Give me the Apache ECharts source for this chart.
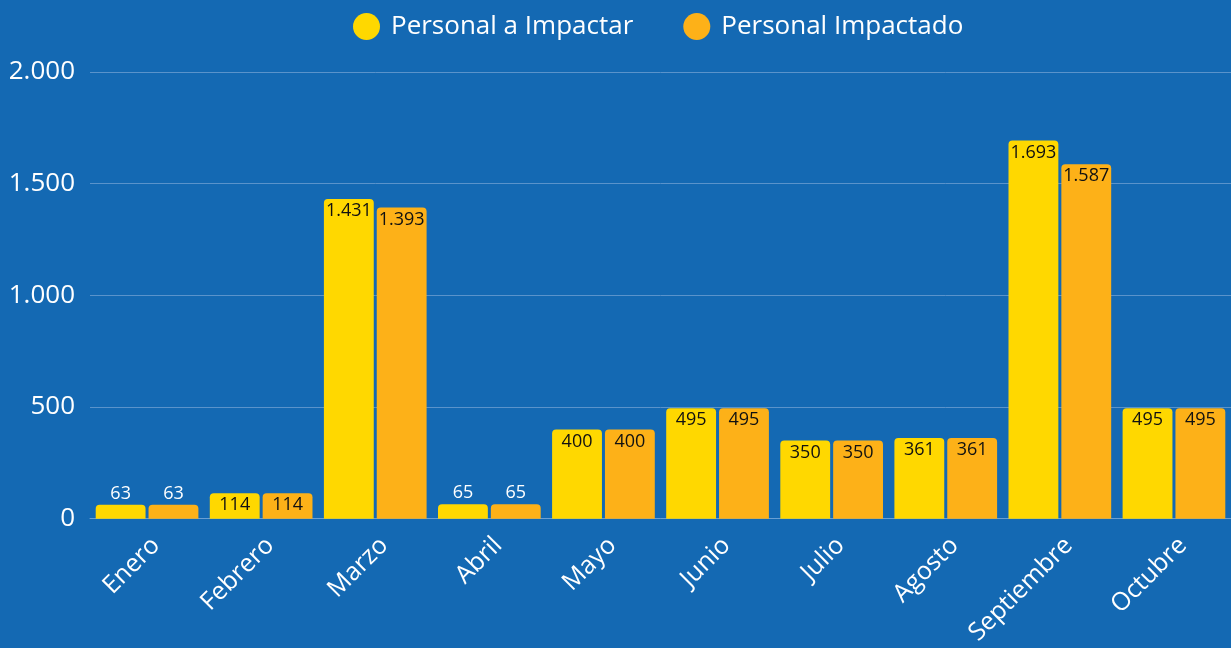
<!DOCTYPE html>
<html lang="es">
<head>
    <meta charset="UTF-8">
    <title>Personal impactado</title>
    <script src="https://cdn.jsdelivr.net/npm/echarts@6/dist/echarts.min.js"></script>
    <style>
        html, body { margin: 0; padding: 0; background: #1469b3; }
        #chart { width: 1231px; height: 648px; }
    </style>
</head>
<body>
    <div id="chart"></div>
    <script>
        // datos
        const meses = ['Enero', 'Febrero', 'Marzo', 'Abril', 'Mayo', 'Junio', 'Julio', 'Agosto', 'Septiembre', 'Octubre']
        const aImpactar = [63, 114, 1431, 65, 400, 495, 350, 361, 1693, 495]
        const impactado = [63, 114, 1393, 65, 400, 495, 350, 361, 1587, 495]
        const yTicks = [0, 500, 1000, 1500, 2000]

        const fmt = v => String(v).replace(/\B(?=(\d{3})+(?!\d))/g, '.')

        // barras chicas: etiqueta blanca arriba
        function conEtiquetas(vals){
            return vals.map(v => v < 100
                ? { value: v, label: { position: 'top', color: '#ffffff', distance: 2 } }
                : v)
        }

        function serie(name, color, vals){
            return {
                name: name,
                type: 'bar',
                data: conEtiquetas(vals),
                barGap: '6%',
                barCategoryGap: '10%',
                itemStyle: { color: color, borderRadius: [4, 4, 0, 0] },
                label: {
                    show: true,
                    position: 'insideTop',
                    distance: 3,
                    color: '#111111',
                    fontSize: 18,
                    fontFamily: 'Open Sans',
                    formatter: p => fmt(p.value)
                }
            }
        }

        var myChart = echarts.init(document.getElementById('chart'))
        var option = {
            backgroundColor: '#1469b3',
            animation: false,
            legend: {
                top: 8,
                left: 348,
                icon: 'circle',
                itemWidth: 27,
                itemHeight: 27,
                itemGap: 50,
                textStyle: { color: '#ffffff', fontSize: 26, fontFamily: 'Open Sans', padding: [0, 0, 0, 6] }
            },
            grid: { left: 90, right: -7, top: 72, bottom: 129 },
            xAxis: {
                type: 'category',
                data: meses,
                axisTick: { show: false },
                axisLine: { lineStyle: { color: '#6a9fd3' } },
                axisLabel: {
                    rotate: 45,
                    color: '#ffffff',
                    fontSize: 25,
                    fontFamily: 'Open Sans',
                    interval: 0,
                    margin: 14,
                    verticalAlign: 'top'
                }
            },
            yAxis: {
                type: 'value',
                min: yTicks[0],
                max: yTicks[yTicks.length - 1],
                interval: 500,
                splitLine: { lineStyle: { color: '#5a93cb', width: 1 } },
                axisLabel: {
                    color: '#ffffff',
                    fontSize: 26,
                    fontFamily: 'Open Sans',
                    margin: 15,
                    formatter: v => fmt(v)
                }
            },
            series: [
                serie('Personal a Impactar', '#ffd800', aImpactar),
                serie('Personal Impactado', '#fdb118', impactado)
            ]
        }
        myChart.setOption(option)
    </script>
</body>
</html>
